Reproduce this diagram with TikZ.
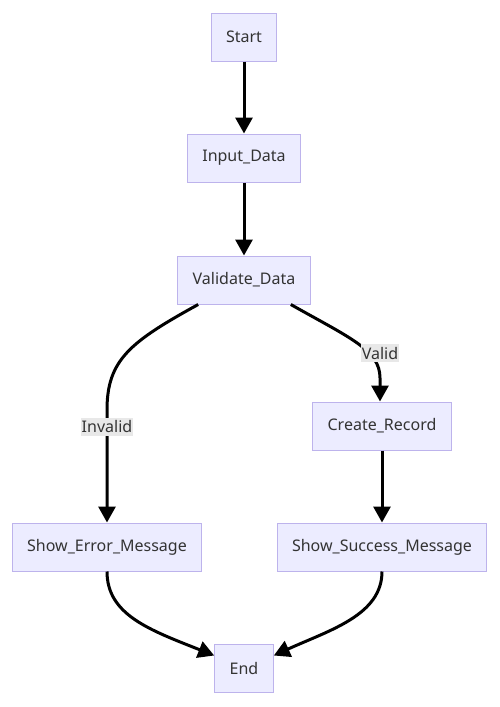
\documentclass[tikz,border=0pt]{standalone}
\usepackage{fontspec}
\setmainfont{Noto Sans}
\usepackage{tikz}
\usetikzlibrary{arrows.meta, positioning}

\definecolor{boxfill}{HTML}{ECECFF}
\definecolor{boxline}{HTML}{BDB3EC}
\definecolor{boxtext}{HTML}{333333}
\definecolor{labelfill}{HTML}{E8E8E8}

\begin{document}
\begin{tikzpicture}[
    x=1pt, y=-1pt,
    every node/.style={font=\fontsize{16}{19}\selectfont, text=boxtext},
    box/.style={rectangle, draw=boxline, line width=1pt, fill=boxfill, inner xsep=15pt, minimum height=48pt},
    arrow/.style={-{Triangle[length=16pt, width=17pt]}, line width=3pt, black},
    elabel/.style={fill=labelfill, inner xsep=1pt, inner ysep=3pt}
  ]

  \useasboundingbox (0,0) rectangle (500,707);

  \node[box] (start) at (244,37) {Start};
  \node[box] (input) at (244,158) {Input\_Data};
  \node[box] (validate) at (244,280) {Validate\_Data};
  \node[box] (create) at (382,426) {Create\_Record};
  \node[box] (error) at (107,547) {Show\_Error\_Message};
  \node[box] (success) at (382,547) {Show\_Success\_Message};
  \node[box] (end) at (244,668) {End};

  \draw[arrow] (start) -- (input);
  \draw[arrow] (input) -- (validate);
  \draw[arrow] ([xshift=21pt]validate.south west) .. controls (130,342) and (107,360) .. (107,410)
    -- node[elabel, pos=0.15] {Invalid} (error);
  \draw[arrow] ([xshift=-20pt]validate.south east) .. controls (350,338) and (380,350) .. (380,378)
    -- (create.north -| 380,0);
  \node[elabel] (validlbl) at (380,353) {Valid};
  \draw[arrow] (create) -- (success);
  \draw[arrow] (error) .. controls (107,615) and (150,630) .. ([yshift=-12pt]end.north west);
  \draw[arrow] (success) .. controls (382,615) and (330,630) .. ([yshift=-12pt]end.north east);

\end{tikzpicture}
\end{document}
